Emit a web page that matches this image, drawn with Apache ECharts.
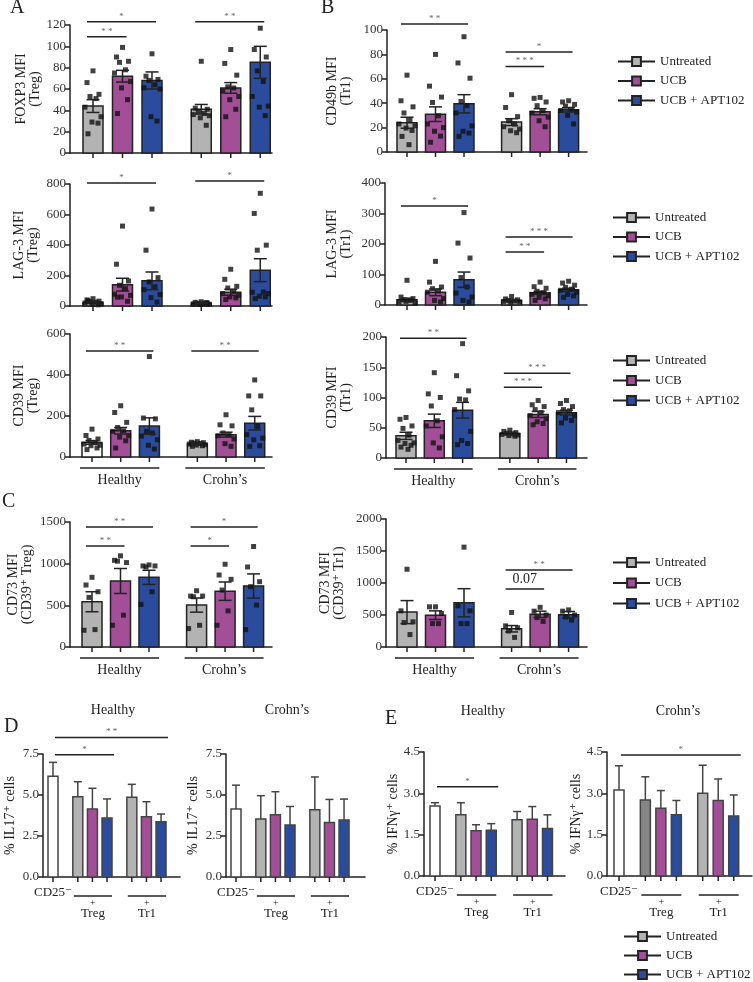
<!DOCTYPE html>
<html>
<head>
<meta charset="utf-8">
<script src="https://cdn.jsdelivr.net/npm/echarts@6/dist/echarts.min.js"></script>
<style>
  html, body { margin: 0; background: #fff; }
  #chart { width: 753px; height: 982px; }
</style>
</head>
<body>
<div id="chart"></div>
<script>
const GROUPS = ['Untreated', 'UCB', 'UCB + APT102'];

// A - Treg MFI (healthy x3, Crohn's x3)
const foxp3Mean = [44, 72, 68, 41, 61, 85];
const foxp3Sem = [6, 5.5, 8, 4.5, 5, 15];
const foxp3Pts = [
  [77, 66, 55, 53, 51, 43, 34, 29, 28, 18],
  [99, 90, 86, 85, 78, 75, 67, 61, 50, 37],
  [93, 72, 69, 68, 64, 61, 60, 34, 30],
  [86, 42, 41, 39, 37, 36, 35, 33, 26],
  [97, 84, 73, 62, 61, 58, 53, 50, 41, 34],
  [117, 97, 90, 77, 67, 53, 44, 43, 35]
];
const lag3TregMean = [22, 140, 165, 18, 90, 235];
const lag3TregSem = [5, 42, 58, 3, 20, 75];
const lag3TregPts = [
  [48, 40, 32, 28, 25, 20, 16, 12, 8, 35],
  [524, 274, 164, 136, 114, 77, 70, 59, 31, 58],
  [636, 366, 186, 158, 125, 107, 75, 55, 26],
  [28, 24, 20, 18, 16, 14, 12, 10, 22],
  [241, 175, 129, 118, 96, 81, 70, 59, 53, 42],
  [739, 607, 399, 366, 92, 90, 81, 64, 59, 48]
];
const cd39TregMean = [71, 128, 151, 63, 109, 165];
const cd39TregSem = [9, 16, 40, 3, 12, 33];
const cd39TregPts = [
  [136, 105, 88, 81, 71, 63, 57, 55, 44, 36],
  [250, 217, 169, 144, 128, 125, 104, 97, 79, 44],
  [490, 190, 186, 125, 117, 102, 84, 57, 39],
  [75, 72, 70, 68, 66, 63, 60, 58, 55, 52],
  [206, 157, 152, 117, 109, 104, 88, 65, 52],
  [376, 298, 298, 230, 149, 109, 92, 84, 55, 52]
];

// B - Tr1 MFI
const cd49bMean = [24, 31, 39.5, 24.5, 33, 34.6];
const cd49bSem = [4.5, 6, 7.5, 2.8, 2.5, 1.8];
const cd49bPts = [
  [63, 42, 37, 32, 26, 23, 21.5, 19.6, 17.7, 12.8, 6],
  [80, 54, 45, 40.6, 29.7, 23, 20, 17, 13, 8],
  [94.5, 73, 60.5, 41.4, 38, 32, 21.5, 17, 15.5, 12.8],
  [47, 36.5, 29, 25.6, 22.9, 20.7, 18.8, 17.4, 15.8],
  [44.7, 44, 41, 38, 34, 32, 28.6, 25.6, 20.7],
  [42, 41, 39, 37.6, 35, 34, 32.7, 30, 23]
];
const lag3Tr1Mean = [17.5, 41.5, 83, 15, 40, 50];
const lag3Tr1Sem = [5, 11, 25, 2, 5, 5];
const lag3Tr1Pts = [
  [81, 26, 21, 17, 15, 10, 6.5, 12],
  [143, 75, 59, 53.5, 46, 42, 21, 15, 10],
  [303, 203, 154, 90, 59, 39, 26, 15, 10],
  [28, 20, 17, 15, 13, 12, 10, 9],
  [75, 60, 55, 45, 40, 35, 30, 25, 20, 15],
  [78, 72, 65, 58, 52, 48, 42, 35, 30, 25]
];
const cd39Tr1Mean = [36.6, 61.5, 79, 40, 72, 75];
const cd39Tr1Sem = [6, 11, 13, 1.5, 5, 4];
const cd39Tr1Pts = [
  [67, 64, 53, 49, 37.7, 29, 25, 24, 21, 18, 14.4],
  [141, 106, 100, 86, 61.5, 53, 35, 25, 16.6],
  [189, 136, 111, 97.5, 96, 80, 44, 29, 24, 22],
  [46, 44, 42, 41, 40, 39, 38, 37, 36],
  [95, 88, 85, 80, 75, 70, 65, 60, 57, 55],
  [95, 90, 85, 80, 78, 75, 70, 66, 62, 58]
];

// C - CD73 MFI
const cd73TregMean = [543, 792, 836, 503, 670, 732];
const cd73TregSem = [120, 150, 85, 85, 110, 145];
const cd73TregPts = [
  [836, 744, 663, 595, 209, 201],
  [1094, 1040, 1013, 1030, 382, 261],
  [985, 973, 973, 960, 663, 511],
  [675, 611, 611, 603, 261, 221],
  [993, 864, 812, 683, 434, 261],
  [1206, 960, 784, 724, 503, 209]
];
const cd73Tr1Mean = [545, 497, 691, 285, 510, 505];
const cd73Tr1Sem = [180, 68, 220, 50, 50, 50];
const cd73Tr1Pts = [
  [1215, 565, 393, 382, 194],
  [628, 628, 524, 366, 366],
  [1560, 644, 565, 366, 366],
  [540, 330, 300, 250, 150],
  [620, 560, 500, 460, 400],
  [580, 560, 500, 470, 420]
];

// D / E - % cytokine+ cells (CD25-, +Treg x3, +Tr1 x3)
const il17HealthyMean = [6.15, 4.9, 4.15, 3.6, 4.86, 3.68, 3.37];
const il17HealthySd = [0.84, 0.91, 1.26, 1.16, 0.79, 0.91, 0.47];
const il17CrohnMean = [4.15, 3.54, 3.79, 3.17, 4.1, 3.33, 3.48];
const il17CrohnSd = [1.45, 1.42, 1.41, 1.13, 2.0, 1.4, 1.27];
const ifngHealthyMean = [2.54, 2.22, 1.64, 1.66, 2.04, 2.06, 1.72];
const ifngHealthySd = [0.12, 0.44, 0.22, 0.24, 0.3, 0.46, 0.5];
const ifngCrohnMean = [3.12, 2.76, 2.46, 2.22, 3.0, 2.74, 2.18];
const ifngCrohnSd = [0.88, 0.84, 0.64, 0.52, 1.02, 0.78, 0.76];

const FONT = '"Liberation Serif", "DejaVu Serif", serif';
const GRAY = '#b3b3b3', DGRAY = '#868686', MAG = '#a34f98', BLUE = '#2b4c9c', WHITE = '#ffffff';
const ABC_COLORS = [GRAY, MAG, BLUE, GRAY, MAG, BLUE];
const ABC_SLOTS = [0, 1, 2, 3.67, 4.67, 5.67];
const DE_SLOTS = [0, 1.7, 2.7, 3.7, 5.4, 6.4, 7.4];
const JITTER = [0, -6, 6, -3, 3, -8, 8, -1, 5, -5, 2];
const AXIS_LINE = { color: '#222', width: 1.5 };
const HC = [[0, 2, 'Healthy'], [3, 5, 'Crohn\u2019s']];
const SUBS = [['cd25', 0], ['sub', 1, 3, 'Treg'], ['sub', 4, 6, 'Tr1']];

const chart = echarts.init(document.getElementById('chart'));
const grids = [], xAxes = [], yAxes = [], series = [];

function buildPanel(p) {
  const i = grids.length;
  const slots = p.slots;
  const xMin = -(p.first - p.left) / p.sp;
  const xMax = xMin + (p.end - p.left) / p.sp;
  const ax = { xAxisIndex: i, yAxisIndex: i };
  grids.push({ left: p.left, top: p.top, width: p.end - p.left, height: p.zero - p.top });
  xAxes.push({
    gridIndex: i, type: 'value', min: xMin, max: xMax,
    axisLine: { show: true, onZero: false, lineStyle: AXIS_LINE },
    axisTick: { show: false }, axisLabel: { show: false }, splitLine: { show: false }
  });
  yAxes.push({
    gridIndex: i, type: 'value', min: 0, max: p.yMax, interval: p.yStep,
    name: p.yName, nameLocation: 'middle', nameRotate: 90, nameGap: p.nameGap,
    nameTextStyle: { fontFamily: FONT, fontSize: 14, color: '#222', lineHeight: 14 },
    axisLine: { show: true, onZero: false, lineStyle: AXIS_LINE },
    axisTick: { show: true, length: 5, lineStyle: AXIS_LINE },
    axisLabel: { fontFamily: FONT, fontSize: 13, color: '#333', margin: 4, formatter: p.fmt },
    splitLine: { show: false }
  });

  // bars, with a tick under each one
  series.push({
    type: 'custom', ...ax, z: 2, silent: true,
    data: p.mean.map((m, j) => [slots[j], m, j]),
    renderItem: (params, api) => {
      const j = api.value(2);
      const base = api.coord([api.value(0), 0]);
      const top = api.coord([api.value(0), api.value(1)]);
      return {
        type: 'group', children: [
          { type: 'rect', shape: { x: base[0] - p.barW / 2, y: top[1], width: p.barW, height: base[1] - top[1] },
            style: { fill: p.colors[j], stroke: p.barStroke, lineWidth: 1.5 } },
          { type: 'line', shape: { x1: base[0], y1: base[1], x2: base[0], y2: base[1] + 5 },
            style: { stroke: '#222', lineWidth: 1.5 } }
        ]
      };
    }
  });

  // points
  if (p.pts) {
    series.push({
      type: 'scatter', ...ax, z: 3, silent: true, symbol: 'rect', symbolSize: 5,
      itemStyle: { color: '#111' },
      data: p.pts.flatMap((g, j) => g.map((v, n) => ({ value: [slots[j], v], symbolOffset: [JITTER[n % JITTER.length], 0] })))
    });
  }

  // error bars
  series.push({
    type: 'custom', ...ax, z: 4, silent: true,
    data: p.mean.map((m, j) => [slots[j], p.upOnly ? m : m - p.err[j], m + p.err[j]]),
    renderItem: (params, api) => {
      const lo = api.coord([api.value(0), api.value(1)]);
      const hi = api.coord([api.value(0), api.value(2)]);
      const c = p.cap / 2;
      const kids = [
        { type: 'line', shape: { x1: lo[0], y1: lo[1], x2: hi[0], y2: hi[1] }, style: { stroke: p.errColor, lineWidth: 1.5 } },
        { type: 'line', shape: { x1: hi[0] - c, y1: hi[1], x2: hi[0] + c, y2: hi[1] }, style: { stroke: p.errColor, lineWidth: 1.5 } }
      ];
      if (!p.upOnly) kids.push({ type: 'line', shape: { x1: lo[0] - c, y1: lo[1], x2: lo[0] + c, y2: lo[1] }, style: { stroke: p.errColor, lineWidth: 1.5 } });
      return { type: 'group', children: kids };
    }
  });

  // significance brackets
  if (p.brackets) {
    series.push({
      type: 'custom', ...ax, z: 5, silent: true,
      data: p.brackets.map(b => [slots[b[0]], b[2]]),
      renderItem: (params, api) => {
        const b = p.brackets[params.dataIndex];
        const a = api.coord([slots[b[0]], b[2]]);
        const e = api.coord([slots[b[1]], b[2]]);
        const x1 = a[0] - p.pad[0], x2 = e[0] + p.pad[1];
        const num = b[3] === '0.07';
        return {
          type: 'group', children: [
            { type: 'line', shape: { x1, y1: a[1], x2, y2: a[1] }, style: { stroke: '#222', lineWidth: 1.5 } },
            { type: 'text', x: (x1 + x2) / 2, y: a[1] - (num ? 3 : 1),
              style: { text: b[3], fill: num ? '#222' : '#666', fontFamily: FONT,
                fontSize: num ? 14 : 9, align: 'center', verticalAlign: 'bottom' } }
          ]
        };
      }
    });
  }

  // labels under the x axis
  if (p.under) {
    series.push({
      type: 'custom', ...ax, z: 5, silent: true,
      data: p.under.map(u => [slots[typeof u[0] === 'number' ? u[0] : u[1]], 0]),
      renderItem: (params, api) => {
        const u = p.under[params.dataIndex];
        const txt = { fontFamily: FONT, fill: '#222', align: 'center', verticalAlign: 'middle' };
        if (p.kind === 'hc') {
          const a = api.coord([slots[u[0]], 0]), e = api.coord([slots[u[1]], 0]);
          const x1 = a[0] - 12, x2 = e[0] + 10;
          return {
            type: 'group', children: [
              { type: 'line', shape: { x1, y1: a[1] + 11, x2, y2: a[1] + 11 }, style: { stroke: '#222', lineWidth: 1.5 } },
              { type: 'text', x: (x1 + x2) / 2, y: a[1] + 23, style: { ...txt, text: u[2], fontSize: 14 } }
            ]
          };
        }
        if (u[0] === 'cd25') {
          const a = api.coord([slots[u[1]], 0]);
          return { type: 'text', x: a[0], y: a[1] + 16, style: { ...txt, text: 'CD25\u207B', fontSize: 13 } };
        }
        const a = api.coord([slots[u[1]], 0]), e = api.coord([slots[u[2]], 0]);
        const x1 = a[0] - 4, x2 = e[0] + 5, xm = (x1 + x2) / 2;
        return {
          type: 'group', children: [
            { type: 'line', shape: { x1, y1: a[1] + 19, x2, y2: a[1] + 19 }, style: { stroke: '#222', lineWidth: 1.5 } },
            { type: 'text', x: xm, y: a[1] + 26, style: { ...txt, text: '+', fontSize: 10 } },
            { type: 'text', x: xm, y: a[1] + 37, style: { ...txt, text: u[3], fontSize: 13 } }
          ]
        };
      }
    });
  }
}

const ABC = { slots: ABC_SLOTS, colors: ABC_COLORS, barW: 20, barStroke: '#222', cap: 13, errColor: '#222', pad: [6, 4],
  fmt: v => String(v) };
const DE = { slots: DE_SLOTS, barW: 10, barStroke: '#444', cap: 8, errColor: '#444', upOnly: true, pad: [-2, 7],
  fmt: v => v.toFixed(1), under: SUBS, kind: 'de' };

// column A
buildPanel({ ...ABC, left: 70, top: 25, zero: 153, first: 93, sp: 29.5, end: 272,
  yMax: 120, yStep: 20, yName: 'FOXP3 MFI\n(Treg)', nameGap: 28,
  mean: foxp3Mean, err: foxp3Sem, pts: foxp3Pts,
  brackets: [[0, 2, 123, '*'], [0, 1, 109, '* *'], [3, 5, 123, '* *']] });
buildPanel({ ...ABC, left: 70, top: 184, zero: 306, first: 93, sp: 29.5, end: 272,
  yMax: 800, yStep: 200, yName: 'LAG-3 MFI\n(Treg)', nameGap: 30,
  mean: lag3TregMean, err: lag3TregSem, pts: lag3TregPts,
  brackets: [[0, 2, 806, '*'], [3, 5, 820, '*']] });
buildPanel({ ...ABC, colors: [WHITE, MAG, BLUE, GRAY, MAG, BLUE], left: 70, top: 334, zero: 457, first: 92, sp: 28.7, end: 272,
  yMax: 600, yStep: 200, yName: 'CD39 MFI\n(Treg)', nameGap: 30,
  mean: cd39TregMean, err: cd39TregSem, pts: cd39TregPts,
  brackets: [[0, 2, 517, '* *'], [3, 5, 517, '* *']], under: HC, kind: 'hc' });

// column B
buildPanel({ ...ABC, left: 387, top: 30, zero: 152, first: 407, sp: 28.5, end: 587,
  yMax: 100, yStep: 20, yName: 'CD49b MFI\n(Tr1)', nameGap: 34,
  mean: cd49bMean, err: cd49bSem, pts: cd49bPts,
  brackets: [[0, 2, 105, '* *'], [3, 5, 82, '*'], [3, 4, 70, '* * *']] });
buildPanel({ ...ABC, left: 385, top: 183, zero: 305, first: 407, sp: 28.5, end: 587,
  yMax: 400, yStep: 100, yName: 'LAG-3 MFI\n(Tr1)', nameGap: 32,
  mean: lag3Tr1Mean, err: lag3Tr1Sem, pts: lag3Tr1Pts,
  brackets: [[0, 2, 325, '*'], [3, 5, 223, '* * *'], [3, 4, 174, '* *']] });
buildPanel({ ...ABC, left: 386, top: 337, zero: 458, first: 406, sp: 28.3, end: 587,
  yMax: 200, yStep: 50, yName: 'CD39 MFI\n(Tr1)', nameGap: 33,
  mean: cd39Tr1Mean, err: cd39Tr1Sem, pts: cd39Tr1Pts,
  brackets: [[0, 2, 198, '* *'], [3, 5, 140, '* * *'], [3, 4, 117, '* * *']], under: HC, kind: 'hc' });

// row C
buildPanel({ ...ABC, left: 70, top: 522, zero: 647, first: 92, sp: 28.5, end: 272,
  yMax: 1500, yStep: 500, yName: 'CD73 MFI\n(CD39\u207A Treg)', nameGap: 36,
  mean: cd73TregMean, err: cd73TregSem, pts: cd73TregPts,
  brackets: [[0, 2, 1440, '* *'], [0, 1, 1212, '* *'], [3, 5, 1440, '*'], [3, 4, 1212, '*']], under: HC, kind: 'hc' });
buildPanel({ ...ABC, left: 386, top: 519, zero: 647, first: 407, sp: 28.5, end: 587,
  yMax: 2000, yStep: 500, yName: 'CD73 MFI\n(CD39\u207A Tr1)', nameGap: 40,
  mean: cd73Tr1Mean, err: cd73Tr1Sem, pts: cd73Tr1Pts,
  brackets: [[3, 5, 1203, '* *'], [3, 4, 906, '0.07']], under: HC, kind: 'hc' });

// row D / E
buildPanel({ ...DE, colors: [WHITE, GRAY, MAG, BLUE, GRAY, MAG, BLUE], left: 43, top: 754, zero: 877, first: 53, sp: 14.6, end: 180,
  yMax: 7.5, yStep: 2.5, yName: '% IL17\u207A cells', nameGap: 26,
  mean: il17HealthyMean, err: il17HealthySd,
  brackets: [[0, 6, 8.5, '* *'], [0, 3, 7.45, '*']] });
buildPanel({ ...DE, colors: [WHITE, GRAY, MAG, BLUE, GRAY, MAG, BLUE], left: 226, top: 754, zero: 877, first: 236, sp: 14.6, end: 365,
  yMax: 7.5, yStep: 2.5, yName: '% IL17\u207A cells', nameGap: 26,
  mean: il17CrohnMean, err: il17CrohnSd });
buildPanel({ ...DE, colors: [WHITE, GRAY, MAG, BLUE, GRAY, MAG, BLUE], left: 424, top: 752, zero: 876, first: 435, sp: 15.2, end: 565,
  yMax: 4.5, yStep: 1.5, yName: '% IFN\u03B3\u207A cells', nameGap: 22,
  mean: ifngHealthyMean, err: ifngHealthySd,
  brackets: [[0, 3, 3.24, '*']] });
buildPanel({ ...DE, colors: [WHITE, DGRAY, MAG, BLUE, GRAY, MAG, BLUE], left: 607, top: 752, zero: 876, first: 619, sp: 15.5, end: 752,
  yMax: 4.5, yStep: 1.5, yName: '% IFN\u03B3\u207A cells', nameGap: 22,
  mean: ifngCrohnMean, err: ifngCrohnSd,
  brackets: [[0, 6, 4.39, '*']] });

// dummy series that carry the legend icons
[GRAY, MAG, BLUE].forEach((c, j) => series.push({
  type: 'line', name: GROUPS[j], xAxisIndex: 0, yAxisIndex: 0, data: [], symbol: 'rect',
  itemStyle: { color: c, borderColor: '#222', borderWidth: 1 },
  lineStyle: { color: '#222', width: 1.5 }
}));

// one legend component per row, so nothing wraps at the page edge
function legendRows(left, firstCenter, step) {
  return GROUPS.map((g, j) => ({
    left, top: firstCenter + j * step - 8, orient: 'vertical', itemWidth: 37, itemHeight: 11, padding: 0,
    selectedMode: false, data: [g],
    textStyle: { fontFamily: FONT, fontSize: 13, color: '#222' }
  }));
}

function label(text, left, top, size, align) {
  return { text, left, top, padding: 0, textAlign: align || 'left',
    textStyle: { fontFamily: FONT, fontSize: size, fontWeight: 'normal', color: '#222' } };
}

chart.setOption({
  backgroundColor: '#fff',
  animation: false,
  title: [
    label('A', 10, -2, 20), label('B', 321, -2, 20), label('C', 2, 492, 20),
    label('D', 4, 717, 20), label('E', 385, 709, 20),
    label('Healthy', 113, 703, 14, 'center'), label('Crohn\u2019s', 287, 703, 14, 'center'),
    label('Healthy', 483, 704, 14, 'center'), label('Crohn\u2019s', 678, 704, 14, 'center')
  ],
  legend: [
    ...legendRows(617, 63, 19.5), ...legendRows(612, 219, 19.5), ...legendRows(612, 362, 20),
    ...legendRows(612, 564, 20.5), ...legendRows(623, 938, 19)
  ],
  grid: grids,
  xAxis: xAxes,
  yAxis: yAxes,
  series
});
</script>
</body>
</html>
